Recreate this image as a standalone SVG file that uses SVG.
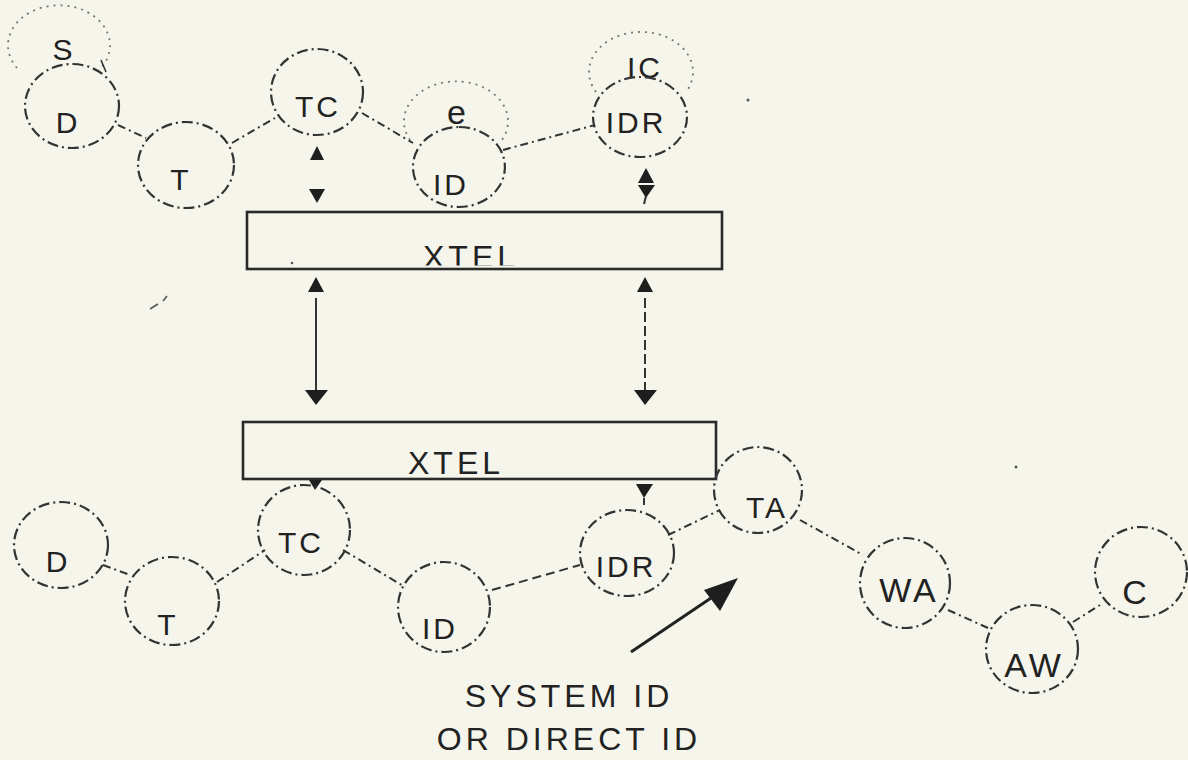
<svg xmlns="http://www.w3.org/2000/svg" width="1188" height="760" viewBox="0 0 1188 760">
<style>
.bg{fill:#f5f5ec}
.nd{fill:none;stroke:#333;stroke-width:2.2;stroke-dasharray:11 4 2 4}
.dot{fill:none;stroke:#777;stroke-width:1.8;stroke-dasharray:2 5}
.ln{fill:none;stroke:#333;stroke-width:2;stroke-dasharray:8 4 2 4}
.sl{fill:none;stroke:#333;stroke-width:2}
.box{fill:none;stroke:#2a2a2a;stroke-width:2.6}
.lb{font-family:"Liberation Sans",Arial,sans-serif;font-size:30px;letter-spacing:3px;fill:#222;text-anchor:middle}
.big{font-size:34px}
.cap{font-family:"Liberation Sans",Arial,sans-serif;font-size:32px;letter-spacing:4px;fill:#222;text-anchor:middle}
.mk{fill:#1e1e1e}
</style>
<defs>
<clipPath id="cutTop"><rect x="240" y="212" width="490" height="53.5"/></clipPath>
</defs>
<rect class="bg" width="1188" height="760"/>

<g id="connectors">
<path class="ln" d="M118,125 L146,138"/>
<path class="ln" d="M232,143 L275,118"/>
<path class="ln" d="M362,113 L413,143"/>
<path class="ln" d="M503,150 L595,125"/>
<path class="mk" d="M317,146 L324,160 L310,160 Z"/>
<path class="mk" d="M309,189 L325,189 L317,203 Z"/>
<path class="mk" d="M646,168 L654,183 L638,183 Z M638,185 L655,185 L646,198 Z"/>
<path class="sl" d="M646,196 L644,204"/>
<path class="mk" d="M316,277 L324,292 L308,292 Z"/>
<path class="sl" d="M316,298 L316,390"/>
<path class="mk" d="M305,390 L328,390 L316,405 Z"/>
<path class="mk" d="M645,277 L653,292 L637,292 Z"/>
<path class="ln" d="M645,298 L645,390" style="stroke-dasharray:10 4"/>
<path class="mk" d="M634,390 L657,390 L645,405 Z"/>
<path class="mk" d="M309,480 L322,480 L315,490 Z"/>
<path class="mk" d="M636,484 L653,484 L644,498 Z"/>
<path class="sl" d="M644,498 L644,505"/>
<path class="ln" d="M103,565 L130,575"/>
<path class="ln" d="M217,582 L265,550"/>
<path class="ln" d="M343,550 L405,587"/>
<path class="ln" d="M492,590 L580,565" style="stroke-dasharray:9 5"/>
<path class="ln" d="M668,535 L720,510"/>
<path class="ln" d="M800,520 L863,555"/>
<path class="ln" d="M948,610 L988,628"/>
<path class="ln" d="M1073,622 L1100,605"/>
<path d="M631,652 L714,596" fill="none" stroke="#222" stroke-width="3"/>
<path class="mk" d="M738,578 L704,590 L720,611 Z"/>
</g>

<g id="node-S">
<path class="dot" d="M17,68 A51,40 0 1 1 101,68"/>
<path class="sl" d="M101,60 L106,72" style="stroke-width:1.6"/>
<text class="lb" x="64" y="60">S</text>
</g>
<g id="node-D-top">
<ellipse class="nd" cx="72" cy="106" rx="47" ry="42"/>
<text class="lb" x="68" y="133">D</text>
</g>
<g id="node-T-top">
<ellipse class="nd" cx="186" cy="165" rx="48" ry="43"/>
<text class="lb" x="181" y="190">T</text>
</g>
<g id="node-TC-top">
<ellipse class="nd" cx="317" cy="92" rx="46" ry="43"/>
<text class="lb" x="318" y="117">TC</text>
</g>
<g id="node-P">
<path class="dot" d="M410,140 A52,40 0 1 1 502,140"/>
<text class="lb big" x="458" y="124">e</text>
</g>
<g id="node-ID-top">
<path class="nd" d="M459,127 A46,40 0 1 1 458.9,127"/>
<text class="lb" x="451" y="195">ID</text>
</g>
<g id="node-IC">
<path class="dot" d="M596,92 A52,40 0 1 1 686,92"/>
<text class="lb" x="645" y="78">IC</text>
</g>
<g id="node-IDR-top">
<ellipse class="nd" cx="640" cy="117" rx="47" ry="40"/>
<text class="lb" x="636" y="133">IDR</text>
</g>

<g id="node-XTEL-top">
<rect class="box" x="247" y="212" width="475" height="57"/>
<text class="cap" x="471" y="268" clip-path="url(#cutTop)">XTEL</text>
</g>
<g id="node-XTEL-bottom">
<rect class="box" x="243" y="422" width="473" height="57"/>
<text class="cap" x="456" y="474">XTEL</text>
</g>

<g id="node-D-bot">
<ellipse class="nd" cx="61" cy="545" rx="47" ry="43"/>
<text class="lb" x="58" y="572">D</text>
</g>
<g id="node-T-bot">
<ellipse class="nd" cx="172" cy="601" rx="47" ry="44"/>
<text class="lb" x="168" y="635">T</text>
</g>
<g id="node-TC-bot">
<ellipse class="nd" cx="304" cy="530" rx="46" ry="45"/>
<text class="lb" x="301" y="553">TC</text>
</g>
<g id="node-ID-bot">
<ellipse class="nd" cx="444" cy="607" rx="46" ry="45"/>
<text class="lb" x="440" y="639">ID</text>
</g>
<g id="node-IDR-bot">
<ellipse class="nd" cx="627" cy="553" rx="47" ry="43"/>
<text class="lb" x="626" y="577">IDR</text>
</g>
<g id="node-TA">
<ellipse class="nd" cx="758" cy="490" rx="44" ry="43"/>
<text class="lb" x="767" y="518">TA</text>
</g>
<g id="node-WA">
<ellipse class="nd" cx="905" cy="583" rx="45" ry="45"/>
<text class="lb big" x="909" y="602">WA</text>
</g>
<g id="node-AW">
<ellipse class="nd" cx="1032" cy="649" rx="46" ry="44"/>
<text class="lb big" x="1034" y="677">AW</text>
</g>
<g id="node-C">
<ellipse class="nd" cx="1141" cy="572" rx="46" ry="45"/>
<text class="lb big" x="1136" y="604">C</text>
</g>

<g id="caption">
<text class="cap" x="569" y="707">SYSTEM ID</text>
<text class="cap" x="569" y="750">OR DIRECT ID</text>
</g>

<g id="marks">
<path d="M150,309 L158,304 M163,301 L167,296" fill="none" stroke="#555" stroke-width="1.6"/>
<circle cx="748" cy="100" r="1.5" fill="#555"/>
<circle cx="1016" cy="467" r="1.5" fill="#555"/>
<circle cx="292" cy="263" r="1.3" fill="#555"/>
</g>
</svg>
